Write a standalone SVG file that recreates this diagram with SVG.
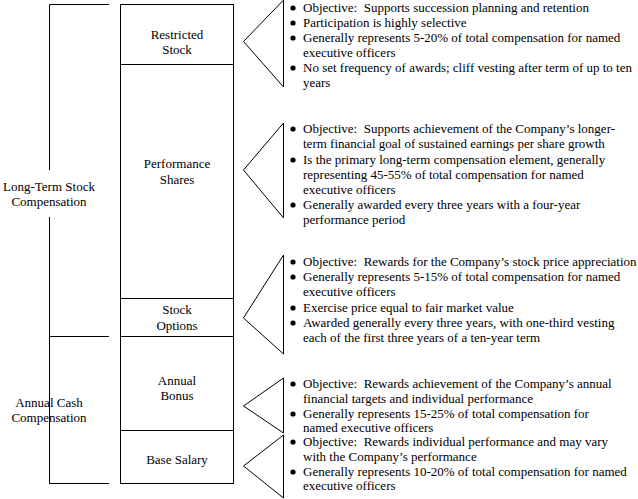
<svg xmlns="http://www.w3.org/2000/svg" width="638" height="499" viewBox="0 0 638 499">
<style>
text{font-family:"Liberation Serif","Times New Roman",serif;font-size:13px;fill:#000}
.c{text-anchor:middle}
.ln{stroke:#000;stroke-width:1;fill:none}
.b{fill:#000}
</style>
<rect width="638" height="499" fill="#fff"/>
<g id="connectors" class="ln">
<path d="M109,4.5H49.5V170M49.5,217V483.5H109M49.5,336.5H109"/>
<path d="M49.5,336.5V388M49.5,433V483.5"/>
<polyline points="283.5,0 243.5,41.5 283.5,87 283.5,0"/>
<polyline points="283.5,123 243.5,170 283.5,218 283.5,123"/>
<polyline points="283.5,255 243.5,318 283.5,354 283.5,255"/>
<polyline points="283.5,378 243.5,406 283.5,433 283.5,378"/>
<polyline points="283.5,435 243.5,466 283.5,498 283.5,435"/>
</g>
<g id="lt-stock"><text class="c" x="49" y="191">Long-Term Stock</text><text class="c" x="49" y="206">Compensation</text></g>
<g id="annual-cash"><text class="c" x="49" y="407">Annual Cash</text><text class="c" x="49" y="422">Compensation</text></g>
<g id="column" class="ln"><rect x="120.5" y="4.5" width="113" height="479"/><path d="M120.5,64.5H233.5M120.5,298.5H233.5M120.5,336.5H233.5M120.5,430.5H233.5"/></g>
<g id="restricted"><text class="c" x="177" y="39">Restricted</text><text class="c" x="177" y="54">Stock</text></g>
<g id="performance"><text class="c" x="177" y="168">Performance</text><text class="c" x="177" y="184">Shares</text></g>
<g id="options"><text class="c" x="177" y="314">Stock</text><text class="c" x="177" y="330">Options</text></g>
<g id="bonus"><text class="c" x="177" y="385">Annual</text><text class="c" x="177" y="400">Bonus</text></g>
<g id="salary"><text class="c" x="177" y="464">Base Salary</text></g>
<g id="restricted-notes">
<circle class="b" cx="293" cy="8" r="2.6"/><text x="303" y="12">Objective:&#160; Supports succession planning and retention</text>
<circle class="b" cx="293" cy="23" r="2.6"/><text x="303" y="27">Participation is highly selective</text>
<circle class="b" cx="293" cy="38" r="2.6"/><text x="303" y="42">Generally represents 5-20% of total compensation for named</text>
<text x="303" y="57">executive officers</text>
<circle class="b" cx="293" cy="68" r="2.6"/><text x="303" y="72">No set frequency of awards; cliff vesting after term of up to ten</text>
<text x="303" y="87">years</text>
</g>
<g id="performance-notes">
<circle class="b" cx="293" cy="129" r="2.6"/><text x="303" y="133">Objective:&#160; Supports achievement of the Company’s longer-</text>
<text x="303" y="148">term financial goal of sustained earnings per share growth</text>
<circle class="b" cx="293" cy="160" r="2.6"/><text x="303" y="164">Is the primary long-term compensation element, generally</text>
<text x="303" y="179">representing 45-55% of total compensation for named</text>
<text x="303" y="194">executive officers</text>
<circle class="b" cx="293" cy="205" r="2.6"/><text x="303" y="209">Generally awarded every three years with a four-year</text>
<text x="303" y="224">performance period</text>
</g>
<g id="options-notes">
<circle class="b" cx="293" cy="262" r="2.6"/><text x="303" y="266">Objective:&#160; Rewards for the Company’s stock price appreciation</text>
<circle class="b" cx="293" cy="277" r="2.6"/><text x="303" y="281">Generally represents 5-15% of total compensation for named</text>
<text x="303" y="296">executive officers</text>
<circle class="b" cx="293" cy="308" r="2.6"/><text x="303" y="312">Exercise price equal to fair market value</text>
<circle class="b" cx="293" cy="323" r="2.6"/><text x="303" y="327">Awarded generally every three years, with one-third vesting</text>
<text x="303" y="342">each of the first three years of a ten-year term</text>
</g>
<g id="bonus-notes">
<circle class="b" cx="293" cy="384" r="2.6"/><text x="303" y="388">Objective:&#160; Rewards achievement of the Company’s annual</text>
<text x="303" y="403">financial targets and individual performance</text>
<circle class="b" cx="293" cy="414" r="2.6"/><text x="303" y="418">Generally represents 15-25% of total compensation for</text>
<text x="303" y="432">named executive officers</text>
</g>
<g id="salary-notes">
<circle class="b" cx="293" cy="442" r="2.6"/><text x="303" y="446">Objective:&#160; Rewards individual performance and may vary</text>
<text x="303" y="461">with the Company’s performance</text>
<circle class="b" cx="293" cy="472" r="2.6"/><text x="303" y="476">Generally represents 10-20% of total compensation for named</text>
<text x="303" y="490">executive officers</text>
</g>
</svg>
